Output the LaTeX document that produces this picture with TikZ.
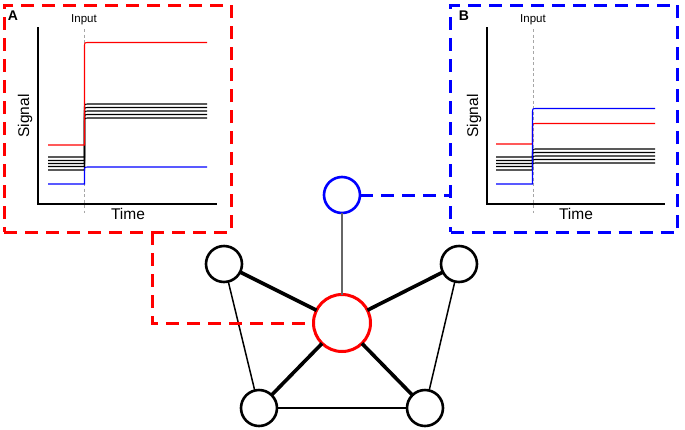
\documentclass[tikz,border=0pt]{standalone}
\usepackage{xcolor}
\usepackage{fontspec}
\setmainfont{Liberation Sans}
\usepackage{tikz}

\definecolor{sigred}{RGB}{255,0,0}
\definecolor{sigblue}{RGB}{0,0,255}

% one signal trace: style, level before, level after the input
\newcommand{\trace}[3]{%
  \draw[#1] (48,#2) -- (84.5,#2) -- (84.5,#3+4) .. controls (84.5,#3) .. (89,#3) -- (207,#3);}

\begin{document}
\begin{tikzpicture}[y=1pt, x=1pt, yscale=-1, inner sep=0pt, outer sep=0pt,
    panelbox/.style={draw, line width=3pt, dash pattern=on 13pt off 8pt,
      minimum width=227pt, minimum height=227pt},
    link/.style={line width=3pt, dash pattern=on 13pt off 8pt},
    unit/.style={circle, draw, line width=2.6pt, fill=white, minimum size=36pt},
    strong/.style={line width=3.6pt},
    weak/.style={line width=1.5pt},
    axis/.style={line width=1.2pt},
    inputline/.style={gray!70, line width=0.9pt, dash pattern=on 3pt off 2.5pt},
    curve/.style={line width=1.1pt},
    tag/.style={font=\bfseries\fontsize{14}{14}\selectfont},
    marker/.style={font=\fontsize{11.5}{12}\selectfont},
    axislabel/.style={font=\fontsize{15.5}{16}\selectfont}]
  \useasboundingbox (0,0) rectangle (685,429);

  % panels
  \node[panelbox, draw=sigred] (boxA) at (117.5,118.5) {};
  \node[panelbox, draw=sigblue] (boxB) at (564,118.5) {};

  % plot A
  \draw[inputline] (84,29) -- (84,213);
  \draw[axis] (38,27) -- (38,204) -- (217,204);
  \node[tag] (labA) at (13,16) {A};
  \node[marker] (inA) at (84,20) {Input};
  \node[axislabel, rotate=90] (sigA) at (25,116) {Signal};
  \node[axislabel] (timeA) at (128,214) {Time};
  \foreach \pre/\post in {157/104, 160.5/107.5, 163.5/111, 166.5/114.5, 170/118}
    \trace{curve}{\pre}{\post};
  \trace{curve, sigred}{145}{42.5}
  \trace{curve, sigblue}{184}{167}

  % plot B
  \begin{scope}[xshift=448pt]
    \draw[inputline] (85,29) -- (85,213);
    \draw[axis] (39,27) -- (39,204) -- (217,204);
    \node[tag] (labB) at (16,16) {B};
    \node[marker] (inB) at (85,20) {Input};
    \node[axislabel, rotate=90] (sigB) at (26,116) {Signal};
    \node[axislabel] (timeB) at (128,214) {Time};
    \foreach \pre/\post in {157/149, 160.5/152.5, 163.5/156, 166.5/159.5, 170/163}
      \trace{curve}{\pre}{\post};
    \trace{curve, sigred}{144}{123.5}
    \trace{curve, sigblue}{184}{108.5}
  \end{scope}

  % network
  \node[unit, draw=sigblue] (top) at (342,195) {};
  \node[unit, draw=sigred, line width=3pt, minimum size=57pt] (hub) at (342,323) {};
  \node[unit] (nw) at (224,264) {};
  \node[unit] (ne) at (459,264) {};
  \node[unit] (sw) at (259,408) {};
  \node[unit] (se) at (425,408) {};

  \draw[gray!80!black, line width=1.3pt] (top) -- (hub);
  \draw[strong] (hub) -- (nw);
  \draw[strong] (hub) -- (ne);
  \draw[strong] (hub) -- (sw);
  \draw[strong] (hub) -- (se);
  \draw[weak] (nw) -- (sw);
  \draw[weak] (ne) -- (se);
  \draw[weak] (sw) -- (se);

  % links from the panels
  \coordinate (bend) at (152,323);
  \draw[link, sigred] (bend |- boxA.south) -- (bend) -- (hub.west);
  \draw[link, sigblue] (top.east) -- (top -| boxB.west);
\end{tikzpicture}
\end{document}
